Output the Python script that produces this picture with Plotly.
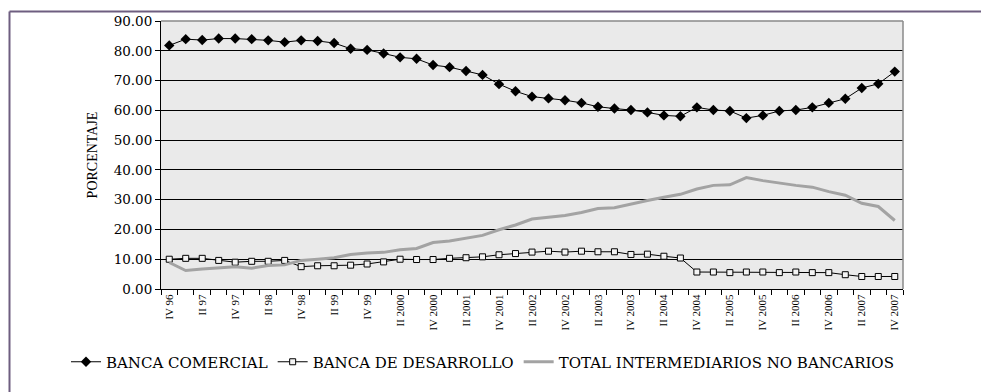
import plotly.graph_objects as go

quarters = ["IV 96", "I 97", "II 97", "III 97", "IV 97", "I 98", "II 98", "III 98", "IV 98",
            "I 99", "II 99", "III 99", "IV 99", "I 2000", "II 2000", "III 2000", "IV 2000",
            "I 2001", "II 2001", "III 2001", "IV 2001", "I 2002", "II 2002", "III 2002", "IV 2002",
            "I 2003", "II 2003", "III 2003", "IV 2003", "I 2004", "II 2004", "III 2004", "IV 2004",
            "I 2005", "II 2005", "III 2005", "IV 2005", "I 2006", "II 2006", "III 2006", "IV 2006",
            "I 2007", "II 2007", "III 2007", "IV 2007"]

tick_labels = ["IV 96", "II 97", "IV 97", "II 98", "IV 98", "II 99", "IV 99", "II 2000", "IV 2000",
               "II 2001", "IV 2001", "II 2002", "IV 2002", "II 2003", "IV 2003", "II 2004", "IV 2004",
               "II 2005", "IV 2005", "II 2006", "IV 2006", "II 2007", "IV 2007"]

banca_comercial = [81.8, 83.9, 83.6, 84.1, 84.1, 83.9, 83.5, 82.9, 83.5, 83.3, 82.6, 80.7, 80.3,
                   79.1, 77.8, 77.3, 75.2, 74.5, 73.2, 71.9, 68.8, 66.4, 64.6, 64.0, 63.4, 62.5,
                   61.2, 60.6, 60.1, 59.3, 58.3, 58.0, 61.0, 60.1, 59.8, 57.4, 58.3, 59.8, 60.1,
                   61.0, 62.5, 63.9, 67.5, 68.9, 73.0]

banca_desarrollo = [10.0, 10.3, 10.3, 9.6, 9.0, 9.3, 9.3, 9.6, 7.5, 7.8, 7.8, 8.0, 8.4, 9.1, 10.0,
                    9.9, 9.9, 10.3, 10.5, 10.8, 11.5, 11.9, 12.4, 12.7, 12.4, 12.7, 12.5, 12.5,
                    11.6, 11.7, 11.0, 10.4, 5.7, 5.7, 5.5, 5.7, 5.7, 5.5, 5.7, 5.5, 5.5, 4.8,
                    4.2, 4.2, 4.2]

total_no_bancarios = [8.9, 6.2, 6.7, 7.1, 7.5, 7.0, 7.9, 8.1, 9.6, 10.0, 10.5, 11.6, 12.1, 12.3,
                      13.2, 13.6, 15.6, 16.1, 17.0, 18.0, 19.9, 21.5, 23.5, 24.0, 24.7, 25.7,
                      27.0, 27.3, 28.6, 29.7, 30.8, 31.8, 33.6, 34.8, 35.0, 37.4, 36.4, 35.5,
                      34.8, 34.2, 32.7, 31.5, 28.8, 27.7, 23.0]

series_names = ["BANCA COMERCIAL", "BANCA DE DESARROLLO", "TOTAL INTERMEDIARIOS NO BANCARIOS"]

xidx = list(range(len(quarters)))
tick_pos = [quarters.index(t) for t in tick_labels]

SERIF = "DejaVu Serif"
TNR = "Liberation Serif"

fig = go.Figure()
fig.add_trace(go.Scatter(
    x=xidx, y=banca_comercial, name=series_names[0], mode="lines+markers",
    line=dict(color="black", width=1),
    marker=dict(symbol="diamond", size=8, color="black"),
    text=quarters, hovertemplate="%{text}: %{y:.2f}<extra></extra>"))
fig.add_trace(go.Scatter(
    x=xidx, y=banca_desarrollo, name=series_names[1], mode="lines+markers",
    line=dict(color="black", width=1),
    marker=dict(symbol="square", size=6, color="#F4F4F4", line=dict(color="black", width=1)),
    text=quarters, hovertemplate="%{text}: %{y:.2f}<extra></extra>"))
fig.add_trace(go.Scatter(
    x=xidx, y=total_no_bancarios, name=series_names[2], mode="lines",
    line=dict(color="#A3A3A3", width=3),
    text=quarters, hovertemplate="%{text}: %{y:.2f}<extra></extra>"))

# plot-area pixel geometry: x 161..903, y 21..289
L, R, T, B = 161, 903, 21, 289
W, H = 981, 392
pw, ph = R - L, B - T


def px_x(p):
    return (p - L) / pw


def px_y(p):
    return (B - p) / ph


border = "#6E5E80"
fig.update_layout(
    width=W, height=H,
    margin=dict(l=L, r=W - R, t=T, b=H - B, pad=0, autoexpand=False),
    paper_bgcolor="white",
    plot_bgcolor="#EAEAEA",
    font=dict(family=SERIF, color="black", size=12),
    showlegend=True,
    legend=dict(orientation="h", x=px_x(66), xanchor="left", y=px_y(362), yanchor="middle",
                font=dict(family=SERIF, size=15, color="black"), bgcolor="rgba(0,0,0,0)",
                itemwidth=30, tracegroupgap=0),
    xaxis=dict(
        range=[-0.5, len(quarters) - 0.5], showgrid=False, zeroline=False,
        tickmode="array", tickvals=tick_pos, ticktext=tick_labels, tickangle=-90,
        ticks="", tickfont=dict(family=TNR, size=11, color="black"),
        showline=True, linecolor="black", linewidth=1,
        minor=dict(ticks="outside", tickmode="linear", tick0=-0.5, dtick=1, ticklen=5,
                   tickcolor="black", tickwidth=1, showgrid=False),
    ),
    yaxis=dict(
        range=[0, 90], dtick=10, tick0=0, tickformat=".2f",
        showgrid=True, gridcolor="black", gridwidth=1, zeroline=False,
        showline=True, linecolor="black", linewidth=1,
        ticks="outside", ticklen=5, tickcolor="black",
        tickfont=dict(family=SERIF, size=13.5, color="black"),
        title=dict(text="PORCENTAJE", font=dict(family=TNR, size=14, color="black"), standoff=12),
    ),
    shapes=[
        # gray plot-area border (top and right)
        dict(type="line", xref="paper", yref="paper", x0=0, x1=1, y0=1, y1=1,
             line=dict(color="#8A8A8A", width=1.5), layer="above"),
        dict(type="line", xref="paper", yref="paper", x0=1, x1=1, y0=0, y1=1,
             line=dict(color="#8A8A8A", width=1.5), layer="above"),
        # outer frame (top and left)
        dict(type="line", xref="paper", yref="paper", x0=px_x(9.5), x1=px_x(990),
             y0=px_y(11.5), y1=px_y(11.5), line=dict(color=border, width=2)),
        dict(type="line", xref="paper", yref="paper", x0=px_x(9.5), x1=px_x(9.5),
             y0=px_y(11.5), y1=px_y(400), line=dict(color=border, width=2)),
    ],
)

fig.write_html("out.html")
